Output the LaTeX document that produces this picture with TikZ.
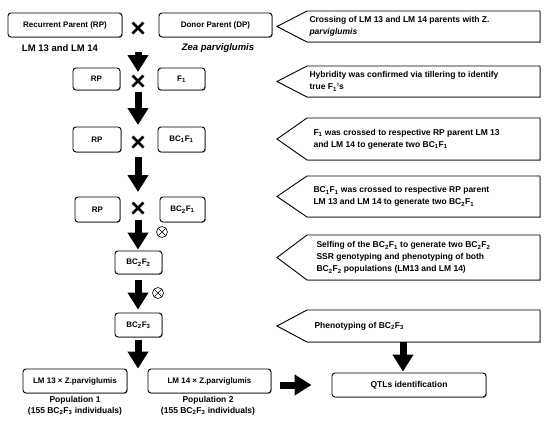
\documentclass[tikz,border=0pt]{standalone}
\usepackage{fontspec}
\setmainfont{Liberation Sans}
\usetikzlibrary{arrows.meta}
\usetikzlibrary{shadows}

\begin{document}
\begin{tikzpicture}[x=1pt,y=-1pt,
  font=\bfseries\fontsize{8}{10}\selectfont,
  box/.style={draw, line width=0.9pt, rounded corners=3pt, fill=white, inner sep=0pt,
    drop shadow={shadow xshift=0.8pt, shadow yshift=-0.8pt, fill=gray!70, opacity=1}},
  callout/.style={draw, line width=0.9pt, fill=white,
    drop shadow={shadow xshift=0.8pt, shadow yshift=-0.8pt, fill=gray!70, opacity=1}},
  calltext/.style={anchor=west, align=left, font=\bfseries\fontsize{8.5}{12}\selectfont},
  bigarrow/.style={line width=7pt, -{Triangle[width=20pt,length=17pt]}},
  crossline/.style={line width=2.6pt},
  selfmark/.style={draw, circle, line width=0.6pt, minimum size=11pt, inner sep=0pt}]

  \useasboundingbox (0,0) rectangle (550,426);

  % left column
  \node[box, minimum width=114pt, minimum height=24pt] (rp0) at (65,25) {Recurrent Parent (RP)};
  \node[box, minimum width=113pt, minimum height=24pt] (dp) at (215.5,25) {Donor Parent (DP)};
  \node[font=\bfseries\fontsize{9.5}{11}\selectfont] (lm) at (60,48) {LM 13 and LM 14};
  \node[font=\bfseries\itshape\fontsize{9.5}{11}\selectfont] (zea) at (218,48) {Zea parviglumis};

  \node[box, minimum width=47pt, minimum height=22pt] (rp1) at (96.5,79) {RP};
  \node[box, minimum width=47pt, minimum height=22pt] (f1) at (181.5,79) {F\textsubscript{1}};
  \node[box, minimum width=48pt, minimum height=25pt] (rp2) at (97,139.5) {RP};
  \node[box, minimum width=47pt, minimum height=25pt] (bc1f1) at (181.5,139.5) {BC\textsubscript{1}F\textsubscript{1}};
  \node[box, minimum width=45pt, minimum height=25pt] (rp3) at (97.5,209.5) {RP};
  \node[box, minimum width=45pt, minimum height=25pt] (bc2f1) at (182.5,209.5) {BC\textsubscript{2}F\textsubscript{1}};
  \node[box, minimum width=47pt, minimum height=23pt] (bc2f2) at (138.5,262.5) {BC\textsubscript{2}F\textsubscript{2}};
  \node[box, minimum width=47pt, minimum height=24pt] (bc2f3) at (138.5,325) {BC\textsubscript{2}F\textsubscript{3}};

  \node[box, minimum width=104pt, minimum height=24pt] (lm13) at (75,381) {LM 13 × Z.parviglumis};
  \node[box, minimum width=123pt, minimum height=24pt] (lm14) at (209.5,381) {LM 14 × Z.parviglumis};
  \node[align=center, font=\bfseries\fontsize{8.5}{11}\selectfont] (pop1) at (75,405.5)
    {Population 1\\(155 BC\textsubscript{2}F\textsubscript{3} individuals)};
  \node[align=center, font=\bfseries\fontsize{8.5}{11}\selectfont] (pop2) at (208,405.5)
    {Population 2\\(155 BC\textsubscript{2}F\textsubscript{3} individuals)};
  \node[box, minimum width=154pt, minimum height=24pt, font=\bfseries\fontsize{8.5}{10}\selectfont] (qtl) at (409,385) {QTLs identification};

  % crosses
  \coordinate (x0) at (138,28);
  \coordinate (x1) at (138,81);
  \coordinate (x2) at (138,142);
  \coordinate (x3) at (138,208);
  \foreach \c in {x0,x1,x2,x3}{
    \draw[crossline] ([shift={(-5.5,-5.5)}]\c) -- ([shift={(5.5,5.5)}]\c);
    \draw[crossline] ([shift={(-5.5,5.5)}]\c) -- ([shift={(5.5,-5.5)}]\c);
  }
  \node[selfmark] (self1) at (162,232) {};
  \node[selfmark] (self2) at (158,293) {};
  \foreach \s in {self1,self2}{
    \draw[line width=0.6pt] (\s.45) -- (\s.225);
    \draw[line width=0.6pt] (\s.135) -- (\s.315);
  }

  % arrows
  \coordinate (a0) at (138,52);
  \draw[bigarrow, shorten >=9pt] (a0) -- (x1);
  \draw[bigarrow, shorten <=11pt, shorten >=17pt] (x1) -- (x2);
  \draw[bigarrow, shorten <=15pt, shorten >=16pt] (x2) -- (x3);
  \draw[bigarrow, shorten <=12pt, shorten >=1pt] (x3) -- (x3 |- bc2f2.north);
  \draw[bigarrow, shorten <=6pt, shorten >=3pt] (bc2f2.south -| x3) -- (bc2f3.north -| x3);
  \draw[bigarrow, shorten <=3pt] (bc2f3.south -| x3) -- (lm13.north -| x3);
  \draw[bigarrow, shorten <=9pt, shorten >=20pt] (lm14.east |- qtl) -- (qtl.west);

  % right column
  \foreach \t/\b in {11/42, 66/97, 118/160, 176/217, 235/280, 310/342}
    \draw[callout] (277,{(\t+\b)/2}) -- (307,\t) -- (540,\t) -- (540,\b) -- (307,\b) -- cycle;

  \node[calltext] (c1) at (306,26.5) {Crossing of LM 13 and LM 14 parents with Z.\\\itshape parviglumis};
  \node[calltext] (c2) at (306,81.5) {Hybridity was confirmed via tillering to identify\\true F\textsubscript{1}'s};
  \node[calltext] (c3) at (310,139) {F\textsubscript{1} was crossed to respective RP parent LM 13\\and LM 14 to generate two BC\textsubscript{1}F\textsubscript{1}};
  \node[calltext] (c4) at (310,196.5) {BC\textsubscript{1}F\textsubscript{1} was crossed to respective RP parent\\LM 13 and LM 14 to generate two BC\textsubscript{2}F\textsubscript{1}};
  \node[calltext] (c5) at (313,257.5) {Selfing of the BC\textsubscript{2}F\textsubscript{1} to generate two BC\textsubscript{2}F\textsubscript{2}\\SSR genotyping and phenotyping of both\\BC\textsubscript{2}F\textsubscript{2} populations (LM13 and LM 14)};
  \node[calltext] (c6) at (311,326) {Phenotyping of BC\textsubscript{2}F\textsubscript{3}};

  \coordinate (c6b) at (403,342);
  \draw[bigarrow, shorten >=1pt] (c6b) -- (c6b |- qtl.north);
\end{tikzpicture}
\end{document}
